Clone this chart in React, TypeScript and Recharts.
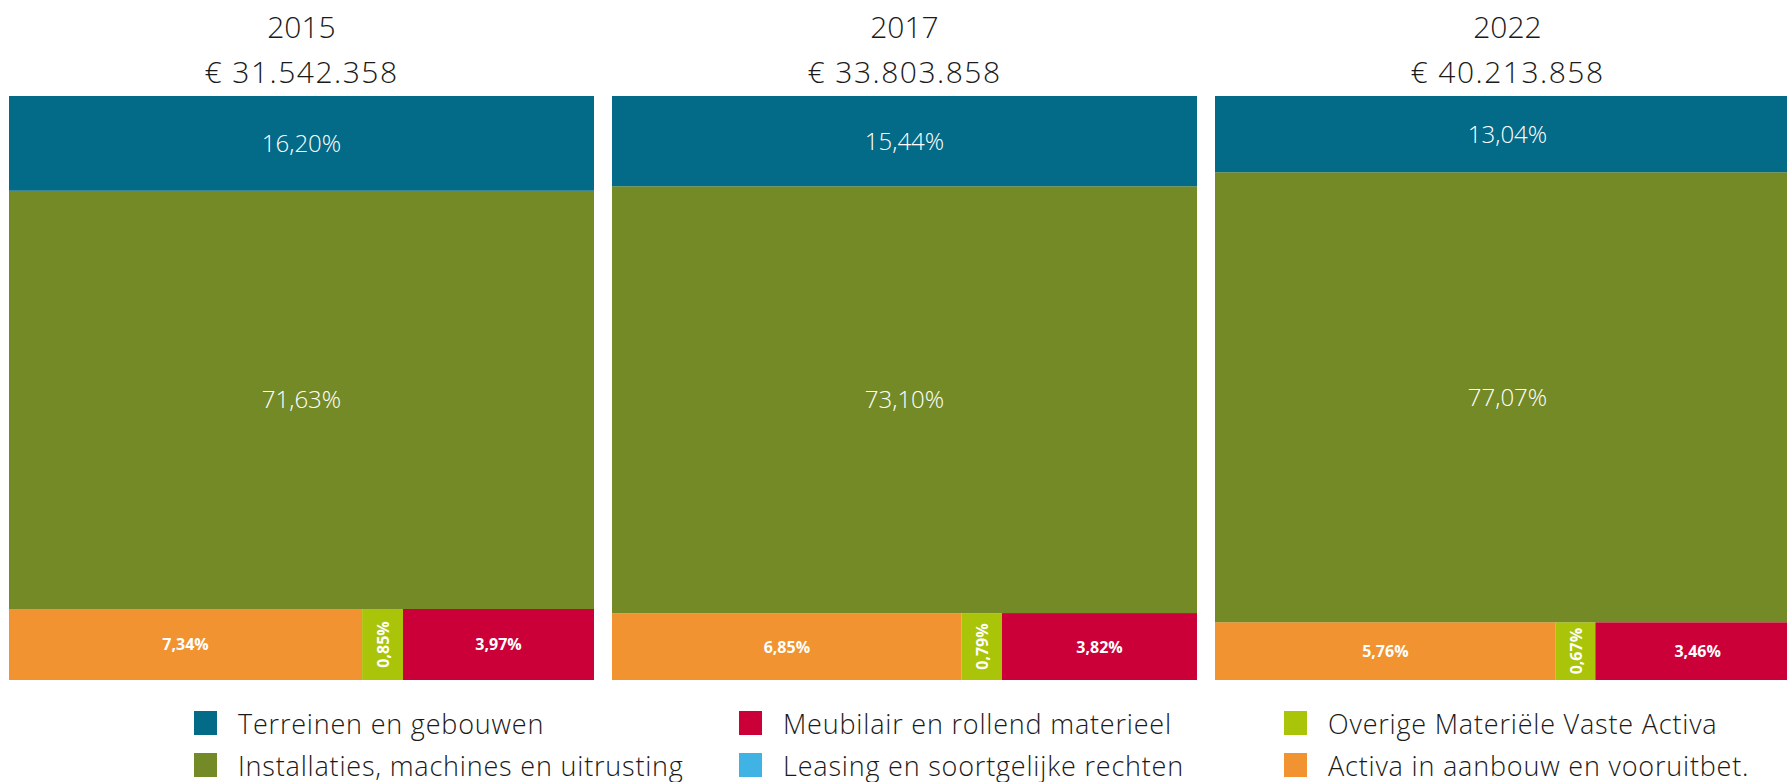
import { Bar, BarChart, LabelList, Legend, XAxis, YAxis } from 'recharts';

const YEARS = ['2015', '2017', '2022'];
const TOTALS = ['€ 31.542.358', '€ 33.803.858', '€ 40.213.858'];

// shares in % of the total per year
const TERREINEN = [16.2, 15.44, 13.04];
const INSTALLATIES = [71.63, 73.1, 77.07];
const ACTIVA = [7.34, 6.85, 5.76];
const OVERIGE = [0.85, 0.79, 0.67];
const MEUBILAIR = [3.97, 3.82, 3.46];
const LEASING = [0, 0, 0];

const COLORS = {
  terreinen: '#036a87',
  installaties: '#738a26',
  meubilair: '#cb0039',
  leasing: '#3fb3e3',
  overige: '#aac40a',
  activa: '#f09330',
};

const LEGEND_ITEMS = [
  { key: 'terreinen', name: 'Terreinen en gebouwen' },
  { key: 'installaties', name: 'Installaties, machines en uitrusting' },
  { key: 'meubilair', name: 'Meubilair en rollend materieel' },
  { key: 'leasing', name: 'Leasing en soortgelijke rechten' },
  { key: 'overige', name: 'Overige Materiële Vaste Activa' },
  { key: 'activa', name: 'Activa in aanbouw en vooruitbet.' },
];

// left-to-right order of the bottom strip
const BOTTOM_PARTS = ['activa', 'overige', 'meubilair', 'leasing'] as const;

const FONT = '"Open Sans", sans-serif';

const data = YEARS.map((year, i) => ({
  year,
  total: TOTALS[i],
  terreinen: TERREINEN[i],
  installaties: INSTALLATIES[i],
  activa: ACTIVA[i],
  overige: OVERIGE[i],
  meubilair: MEUBILAIR[i],
  leasing: LEASING[i],
  bottom: ACTIVA[i] + OVERIGE[i] + MEUBILAIR[i] + LEASING[i],
}));

const pct = (v: number) => `${v.toFixed(2).replace('.', ',')}%`;

function TitleTick(props: any) {
  const { x, y, payload } = props;
  const i = YEARS.indexOf(payload.value);
  return (
    <g fontFamily={FONT} fontSize={30} fontWeight={300} fill="#1a1a1a">
      <text x={x} y={y - 58} textAnchor="middle">
        {payload.value}
      </text>
      <text x={x} y={y - 13} textAnchor="middle" letterSpacing={1.5}>
        {TOTALS[i]}
      </text>
    </g>
  );
}

// the bottom block of each column is split sideways by its parts
function BottomRow(props: any) {
  const { x, y, width, height, payload } = props;
  let cx = x;
  return (
    <g>
      {BOTTOM_PARTS.map((key) => {
        const v = payload[key] as number;
        if (!v) return null;
        const w = (width * v) / payload.bottom;
        const left = cx;
        cx += w;
        const mx = left + w / 2;
        const my = y + height / 2;
        const vertical = w < 60;
        return (
          <g key={key}>
            <rect x={left} y={y} width={w} height={height} fill={COLORS[key]} />
            <text
              x={mx}
              y={my}
              textAnchor="middle"
              dominantBaseline="central"
              fontSize={16}
              fontWeight={700}
              fill="#fff"
              fontFamily={FONT}
              transform={vertical ? `rotate(-90 ${mx} ${my})` : undefined}
            >
              {pct(v)}
            </text>
          </g>
        );
      })}
    </g>
  );
}

function LegendGrid() {
  return (
    <div
      style={{
        display: 'grid',
        gridTemplateColumns: 'repeat(3, 545px)',
        gridTemplateRows: 'repeat(2, 42px)',
        gridAutoFlow: 'column',
        paddingLeft: 194,
        paddingTop: 22,
        fontFamily: FONT,
        fontSize: 27,
        fontWeight: 300,
        letterSpacing: 0.8,
        color: '#1a1a1a',
        whiteSpace: 'nowrap',
      }}
    >
      {LEGEND_ITEMS.map((item) => (
        <div key={item.key} style={{ display: 'flex', alignItems: 'center', gap: 21 }}>
          <span style={{ width: 23, height: 24, flex: 'none', background: COLORS[item.key as keyof typeof COLORS] }} />
          <span>{item.name}</span>
        </div>
      ))}
    </div>
  );
}

export default function App() {
  return (
    <div
      style={{
        position: 'absolute',
        left: 0,
        top: 0,
        width: 1787,
        height: 782,
        overflow: 'hidden',
        background: '#fff',
      }}
    >
      <BarChart width={1809} height={782} data={data} margin={{ top: 0, right: 0, bottom: 0, left: 0 }} barSize={585}>
        <XAxis
          dataKey="year"
          orientation="top"
          height={96}
          axisLine={false}
          tickLine={false}
          tickSize={0}
          tickMargin={0}
          tick={<TitleTick />}
          interval={0}
        />
        <YAxis hide domain={[0, 100]} />
        <Legend
          verticalAlign="bottom"
          height={102}
          content={<LegendGrid />}
          wrapperStyle={{ left: 0, width: 1809 }}
        />
        <Bar dataKey="bottom" stackId="a" shape={<BottomRow />} isAnimationActive={false} />
        <Bar dataKey="installaties" stackId="a" fill={COLORS.installaties} isAnimationActive={false}>
          <LabelList dataKey="installaties" position="center" formatter={(v: any) => pct(Number(v))} fill="#fff" fontSize={24} fontWeight={300} fontFamily={FONT} />
        </Bar>
        <Bar dataKey="terreinen" stackId="a" fill={COLORS.terreinen} isAnimationActive={false}>
          <LabelList dataKey="terreinen" position="center" formatter={(v: any) => pct(Number(v))} fill="#fff" fontSize={24} fontWeight={300} fontFamily={FONT} />
        </Bar>
      </BarChart>
    </div>
  );
}
